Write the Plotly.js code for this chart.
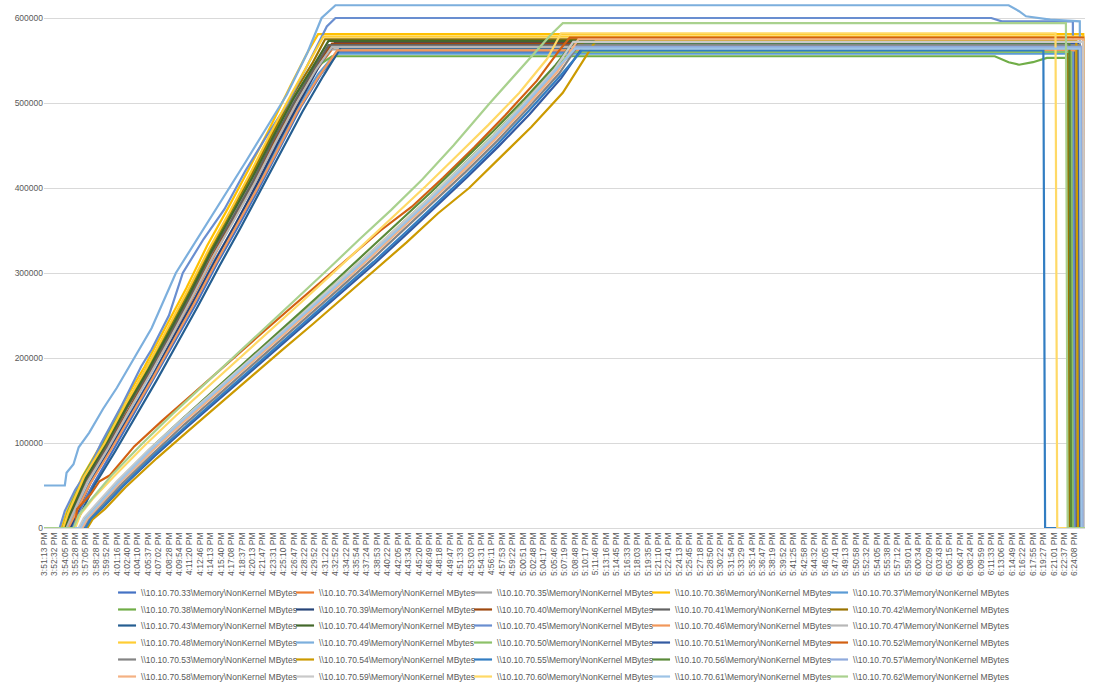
<!DOCTYPE html>
<html><head><meta charset="utf-8">
<script src="https://cdn.plot.ly/plotly-3.0.1.min.js"></script>
<style>html,body{margin:0;padding:0;background:#fff}#chart{width:1094px;height:687px}</style>
</head><body><div id="chart"></div>
<script>
// Category tick labels (one label every 6 samples)
const timeLabels = ['3:51:13 PM','3:52:32 PM','3:54:05 PM','3:55:28 PM','3:57:05 PM','3:58:28 PM','3:59:52 PM','4:01:16 PM','4:02:40 PM','4:04:10 PM','4:05:37 PM','4:07:02 PM','4:08:28 PM','4:09:54 PM','4:11:20 PM','4:12:46 PM','4:14:13 PM','4:15:40 PM','4:17:08 PM','4:18:37 PM','4:20:13 PM','4:21:47 PM','4:23:31 PM','4:25:10 PM','4:26:47 PM','4:28:22 PM','4:29:52 PM','4:31:22 PM','4:32:52 PM','4:34:22 PM','4:35:54 PM','4:37:24 PM','4:38:53 PM','4:40:22 PM','4:42:05 PM','4:43:34 PM','4:45:20 PM','4:46:49 PM','4:48:18 PM','4:49:47 PM','4:51:33 PM','4:53:03 PM','4:54:31 PM','4:56:11 PM','4:57:53 PM','4:59:22 PM','5:00:51 PM','5:02:48 PM','5:04:17 PM','5:05:46 PM','5:07:19 PM','5:08:48 PM','5:10:17 PM','5:11:46 PM','5:13:16 PM','5:14:45 PM','5:16:33 PM','5:18:03 PM','5:19:35 PM','5:21:10 PM','5:22:41 PM','5:24:13 PM','5:25:45 PM','5:27:18 PM','5:28:50 PM','5:30:22 PM','5:31:54 PM','5:33:29 PM','5:35:14 PM','5:36:47 PM','5:38:19 PM','5:39:52 PM','5:41:25 PM','5:42:58 PM','5:44:32 PM','5:46:05 PM','5:47:41 PM','5:49:13 PM','5:50:58 PM','5:52:32 PM','5:54:05 PM','5:55:38 PM','5:57:12 PM','5:59:01 PM','6:00:34 PM','6:02:09 PM','6:03:43 PM','6:05:15 PM','6:06:47 PM','6:08:24 PM','6:09:59 PM','6:11:33 PM','6:13:06 PM','6:14:49 PM','6:16:22 PM','6:17:55 PM','6:19:27 PM','6:21:01 PM','6:22:37 PM','6:24:08 PM'];
const samplesPerLabel = 6;
const lastSample = 600;

const legendNames = [
 '\\\\10.10.70.33\\Memory\\NonKernel MBytes','\\\\10.10.70.34\\Memory\\NonKernel MBytes','\\\\10.10.70.35\\Memory\\NonKernel MBytes','\\\\10.10.70.36\\Memory\\NonKernel MBytes','\\\\10.10.70.37\\Memory\\NonKernel MBytes',
 '\\\\10.10.70.38\\Memory\\NonKernel MBytes','\\\\10.10.70.39\\Memory\\NonKernel MBytes','\\\\10.10.70.40\\Memory\\NonKernel MBytes','\\\\10.10.70.41\\Memory\\NonKernel MBytes','\\\\10.10.70.42\\Memory\\NonKernel MBytes',
 '\\\\10.10.70.43\\Memory\\NonKernel MBytes','\\\\10.10.70.44\\Memory\\NonKernel MBytes','\\\\10.10.70.45\\Memory\\NonKernel MBytes','\\\\10.10.70.46\\Memory\\NonKernel MBytes','\\\\10.10.70.47\\Memory\\NonKernel MBytes',
 '\\\\10.10.70.48\\Memory\\NonKernel MBytes','\\\\10.10.70.49\\Memory\\NonKernel Mbytes','\\\\10.10.70.50\\Memory\\NonKernel MBytes','\\\\10.10.70.51\\Memory\\NonKernel MBytes','\\\\10.10.70.52\\Memory\\NonKernel MBytes',
 '\\\\10.10.70.53\\Memory\\NonKernel MBytes','\\\\10.10.70.54\\Memory\\NonKernel MBytes','\\\\10.10.70.55\\Memory\\NonKernel MBytes','\\\\10.10.70.56\\Memory\\NonKernel MBytes','\\\\10.10.70.57\\Memory\\NonKernel MBytes',
 '\\\\10.10.70.58\\Memory\\NonKernel MBytes','\\\\10.10.70.59\\Memory\\NonKernel MBytes','\\\\10.10.70.60\\Memory\\NonKernel MBytes','\\\\10.10.70.61\\Memory\\NonKernel MBytes','\\\\10.10.70.62\\Memory\\NonKernel MBytes'
];
const seriesColors = ['#4472C4','#ED7D31','#A5A5A5','#FFC000','#5B9BD5','#70AD47','#264478','#9E480E','#636363','#997300',
 '#255E91','#43682B','#698ED0','#F1975A','#B7B7B7','#FFCD33','#7CAFDD','#8CC168','#335AA1','#D26012',
 '#848484','#CC9A00','#327DC2','#5A8A39','#8FAADC','#F4B183','#C9C9C9','#FFD966','#9DC3E6','#A9D18E'];

// Each series: [sample number, value in thousands of MB]
const d33 = [[0,0],[16,0],[19,15],[28,50],[40,92],[52,135],[64,178],[76,222],[88,265],[100,312],[112,355],[124,400],[136,448],[148,495],[160,535],[170,560],[595,560],[596,0],[600,0]];
const d34 = [[0,0],[13,0],[16,18],[25,58],[37,96],[49,138],[61,182],[73,224],[85,268],[97,316],[109,362],[121,404],[133,452],[145,497],[157,538],[167,566],[598,566],[599,0],[600,0]];
const d35 = [[0,0],[12,0],[15,12],[24,52],[36,98],[48,142],[60,184],[72,228],[84,274],[96,318],[108,364],[120,410],[132,452],[144,502],[156,544],[164,563],[598,563],[599,0],[600,0]];
const d36 = [[0,0],[10,0],[13,18],[22,60],[34,102],[46,148],[58,190],[70,236],[82,282],[94,332],[106,376],[118,422],[130,470],[142,520],[152,560],[158,581],[599,581],[600,0]];
const d37 = [[0,0],[14,0],[17,14],[26,52],[38,94],[50,136],[62,178],[74,222],[86,266],[98,314],[110,356],[122,400],[134,446],[146,494],[158,534],[168,558],[596,558],[597,0],[600,0]];
const d38 = [[0,0],[11,0],[14,20],[23,62],[35,104],[47,146],[59,186],[71,230],[83,276],[95,322],[107,366],[119,410],[131,458],[143,504],[155,540],[166,555],[548,555],[556,548],[562,545],[570,548],[578,553],[591,553],[592,0],[600,0]];
const d39 = [[0,0],[15,0],[18,14],[27,54],[39,96],[51,138],[63,180],[75,226],[87,270],[99,316],[111,360],[123,406],[135,454],[147,500],[159,545],[168,572],[594,572],[595,0],[600,0]];
const d40 = [[0,0],[13,0],[16,16],[25,56],[37,98],[49,140],[61,184],[73,228],[85,272],[97,320],[109,364],[121,408],[133,456],[145,502],[157,544],[166,570],[596,570],[597,0],[600,0]];
const d41 = [[0,0],[12,0],[15,14],[24,56],[36,96],[48,142],[60,182],[72,226],[84,272],[96,322],[108,362],[120,406],[132,456],[144,500],[156,542],[164,568],[594,568],[595,0],[600,0]];
const d42 = [[0,0],[11,0],[14,16],[23,58],[35,100],[47,144],[59,188],[71,232],[83,278],[95,326],[107,370],[119,414],[131,462],[143,508],[155,548],[162,575],[590,575],[591,0],[600,0]];
const d43 = [[0,0],[17,0],[20,12],[29,50],[41,90],[53,132],[65,174],[77,218],[89,262],[101,308],[113,352],[125,398],[137,444],[149,490],[161,532],[171,565],[597,565],[598,0],[600,0]];
const d44 = [[0,0],[12,0],[15,16],[24,58],[36,100],[48,144],[60,186],[72,230],[84,276],[96,324],[108,368],[120,412],[132,460],[144,506],[156,546],[164,573],[592,573],[593,0],[600,0]];
const d45 = [[0,0],[9,0],[12,20],[18,45],[26,70],[33,100],[45,145],[56,190],[62,210],[72,250],[80,300],[92,340],[104,375],[116,420],[128,460],[140,498],[152,545],[163,590],[168,600],[546,600],[552,596],[593,596],[594,0],[600,0]];
const d46 = [[0,0],[14,0],[17,12],[26,50],[38,90],[50,132],[62,174],[74,218],[86,262],[98,308],[110,352],[122,396],[134,442],[146,490],[158,530],[169,562],[598,562],[599,0],[600,0]];
const d47 = [[0,0],[13,0],[16,14],[25,54],[37,94],[49,138],[61,180],[73,224],[85,270],[97,318],[109,360],[121,404],[133,452],[145,498],[157,540],[166,566],[595,566],[596,0],[600,0]];
const d48 = [[0,0],[11,0],[14,18],[23,60],[35,100],[47,146],[59,188],[71,234],[83,280],[95,328],[107,372],[119,418],[131,466],[143,512],[154,552],[161,578],[599,578],[600,0]];
const d49 = [[0,50],[12,50],[13,65],[17,75],[20,95],[26,112],[34,140],[42,165],[52,200],[62,235],[76,300],[90,345],[104,390],[116,430],[128,470],[140,510],[152,560],[160,600],[168,615],[556,615],[562,608],[566,602],[580,598],[597,596],[598,0],[600,0]];
const d50 = [[0,0],[21,0],[24,13],[31,28],[43,55],[61,92],[79,126],[97,158],[115,191],[133,224],[151,256],[169,289],[187,322],[205,356],[223,390],[241,426],[259,462],[277,501],[294,540],[304,560],[592,560],[593,0],[600,0]];
const d51 = [[0,0],[24,0],[27,10],[34,24],[46,50],[64,85],[82,118],[100,150],[118,182],[136,214],[154,245],[172,277],[190,310],[208,344],[226,378],[244,413],[262,449],[280,487],[298,529],[312,570],[596,570],[597,0],[600,0]];
const d52 = [[0,0],[18,0],[19,22],[27,40],[32,55],[38,62],[52,96],[68,126],[86,158],[104,191],[122,223],[140,255],[158,287],[176,319],[194,350],[212,378],[230,412],[248,448],[266,486],[284,526],[297,562],[303,577],[599,577],[600,0]];
const d53 = [[0,0],[23,0],[26,11],[33,26],[45,52],[63,88],[81,122],[99,154],[117,186],[135,219],[153,250],[171,283],[189,316],[207,350],[225,384],[243,419],[261,455],[279,494],[297,535],[308,568],[597,568],[598,0],[600,0]];
const d54 = [[0,0],[25,0],[28,10],[35,22],[47,48],[65,82],[83,114],[101,146],[119,178],[137,209],[155,240],[173,272],[191,304],[209,336],[227,370],[245,400],[263,436],[281,472],[299,512],[313,558],[318,573],[595,573],[596,0],[600,0]];
const d55 = [[0,0],[24,0],[27,11],[34,25],[46,51],[64,87],[82,120],[100,152],[118,184],[136,217],[154,248],[172,280],[190,313],[208,347],[226,381],[244,416],[262,453],[280,492],[298,533],[310,562],[576,562],[577,0],[600,0]];
const d56 = [[0,0],[21,0],[24,12],[31,29],[43,56],[61,93],[79,127],[97,160],[115,193],[133,227],[151,259],[169,293],[187,327],[205,361],[223,395],[241,431],[259,467],[277,505],[295,545],[305,571],[591,571],[592,0],[600,0]];
const d57 = [[0,0],[22,0],[25,11],[32,27],[44,54],[62,91],[80,125],[98,157],[116,189],[134,222],[152,254],[170,287],[188,320],[206,354],[224,388],[242,424],[260,460],[278,499],[296,540],[307,566],[598,566],[599,0],[600,0]];
const d58 = [[0,0],[22,0],[25,11],[32,27],[44,54],[62,90],[80,124],[98,156],[116,188],[134,221],[152,252],[170,285],[188,318],[206,352],[224,386],[242,421],[260,457],[278,496],[296,537],[308,575],[599,575],[600,0]];
const d59 = [[0,0],[20,0],[23,12],[30,28],[42,55],[60,91],[78,125],[96,157],[114,189],[132,222],[150,254],[168,287],[186,320],[204,354],[222,388],[240,423],[258,459],[276,498],[294,539],[305,572],[599,572],[600,0]];
const d60 = [[0,0],[18,0],[21,16],[28,34],[40,60],[58,97],[76,132],[94,165],[112,198],[130,232],[148,265],[166,299],[184,333],[202,368],[220,402],[238,438],[256,474],[274,512],[290,552],[298,582],[583,582],[584,0],[600,0]];
const d61 = [[0,0],[21,0],[24,11],[31,27],[43,54],[61,91],[79,125],[97,157],[115,189],[133,222],[151,253],[169,286],[187,319],[205,353],[223,387],[241,423],[259,459],[277,498],[295,539],[306,564],[597,564],[598,0],[600,0]];
const d62 = [[0,0],[17,0],[20,15],[27,33],[39,62],[56,98],[74,134],[92,168],[110,202],[128,236],[146,270],[164,305],[182,340],[200,374],[218,410],[236,450],[257,500],[276,544],[292,580],[299,594],[589,594],[590,0],[600,0]];

const seriesData = [d33,d34,d35,d36,d37,d38,d39,d40,d41,d42,d43,d44,d45,d46,d47,d48,d49,d50,d51,d52,d53,d54,d55,d56,d57,d58,d59,d60,d61,d62];
const yTicks = [0,100000,200000,300000,400000,500000,600000];
const legendColumns = 5;
const legendRowY = [-0.0949, -0.1271, -0.1575, -0.1898, -0.2220, -0.2543];

const legendIds = legendRowY.map((_, r) => r === 0 ? 'legend' : 'legend' + (r + 1));
const traces = seriesData.map((d, k) => {
  const t = {
    type: 'scatter', mode: 'lines',
    name: legendNames[k],
    x: d.map(p => p[0]),
    y: d.map(p => p[1] * 1000),
    line: {color: seriesColors[k], width: 2.2},
    legend: legendIds[Math.floor(k / legendColumns)],
    hoverinfo: 'skip'
  };
  if (k % legendColumns === legendColumns - 1) t.legendwidth = 170;
  return t;
});

const layout = {
  width: 1094, height: 687,
  margin: {l: 44, r: 9, t: 1, b: 159, autoexpand: false},
  paper_bgcolor: '#ffffff', plot_bgcolor: '#ffffff',
  font: {family: 'Liberation Sans, Arial, sans-serif', color: '#595959', size: 8.5},
  showlegend: true,
  xaxis: {
    range: [0, lastSample], tickmode: 'array',
    tickvals: timeLabels.map((_, i) => i * samplesPerLabel), ticktext: timeLabels,
    tickangle: -90, tickfont: {size: 8.5, color: '#595959'},
    showgrid: false, zeroline: false, showline: true, linecolor: '#d9d9d9', linewidth: 1, ticks: ''
  },
  yaxis: {
    range: [0, 620000], tickmode: 'array', tickvals: yTicks, tickformat: 'd',
    showgrid: true, gridcolor: '#d9d9d9', gridwidth: 1, zeroline: false, showline: false, ticks: '',
    tickfont: {size: 8.5, color: '#595959'}
  }
};
legendIds.forEach((id, r) => {
  layout[id] = {
    orientation: 'h', x: 0.0548, xanchor: 'left', y: legendRowY[r], yanchor: 'top',
    entrywidth: 133, entrywidthmode: 'pixels', traceorder: 'normal',
    font: {size: 8.5, color: '#595959'}, bgcolor: 'rgba(0,0,0,0)'
  };
});

Plotly.newPlot('chart', traces, layout, {staticPlot: true, displayModeBar: false}).then(gd => {
  // shorter legend swatches, as in the original
  gd.querySelectorAll('.legendlines path').forEach(p => p.setAttribute('d', 'M17,0h18'));
});
</script>
</body></html>
